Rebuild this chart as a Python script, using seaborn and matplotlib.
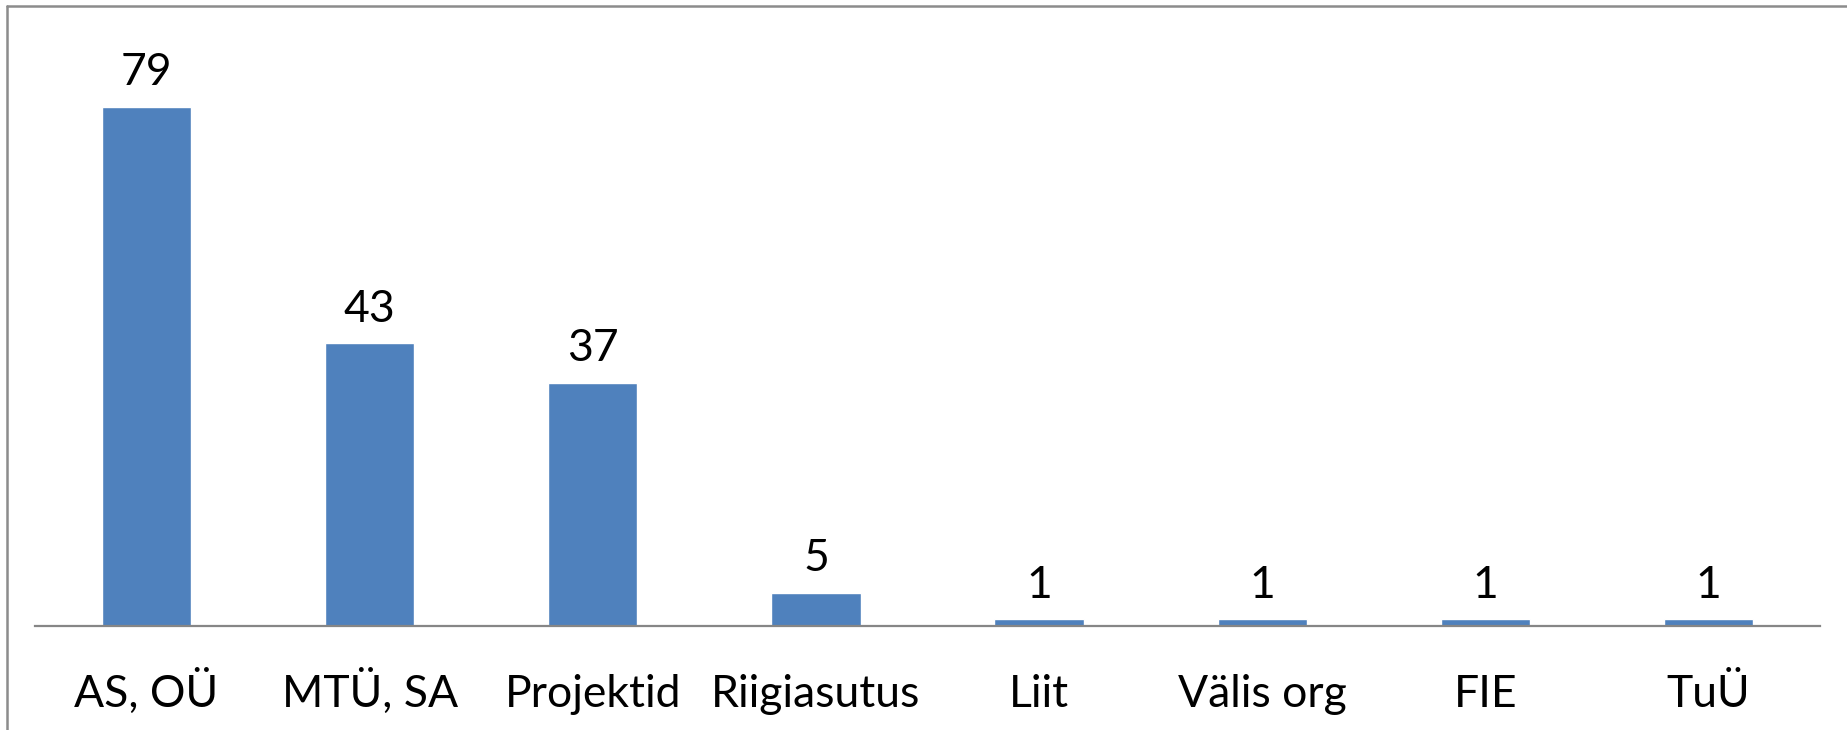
import matplotlib
matplotlib.use("Agg")
import matplotlib.pyplot as plt
import seaborn as sns
import pandas as pd
from matplotlib.lines import Line2D

categories = ["AS, OÜ", "MTÜ, SA", "Projektid", "Riigiasutus", "Liit", "Välis org", "FIE", "TuÜ"]
values = [79, 43, 37, 5, 1, 1, 1, 1]

sns.set_theme(style="white")
plt.rcParams['font.family'] = ['Lato', 'DejaVu Sans']

W, H = 1847, 730
fig = plt.figure(figsize=(W / 100, H / 100), dpi=100)
ax_left, ax_right = 35 / W, 1820 / W
ax_bottom = (H - 626) / H
ax_top = (H - 40) / H
ax = fig.add_axes([ax_left, ax_bottom, ax_right - ax_left, ax_top - ax_bottom])

df = pd.DataFrame({"cat": categories, "val": values})
sns.barplot(data=df, x="cat", y="val", color="#4F81BD", saturation=1, width=0.40, ax=ax)

ax.set_ylim(0, (626 - 40) / 6.57)
ax.set_xlim(-0.5, len(categories) - 0.5)
ax.set_xlabel("")
ax.set_ylabel("")
ax.set_yticks([])
for s in ["top", "right", "left"]:
    ax.spines[s].set_visible(False)
ax.spines["bottom"].set_color("#868686")
ax.spines["bottom"].set_linewidth(1.6)
ax.tick_params(axis="x", length=0, pad=58, labelsize=32, labelcolor="black")
ax.set_xticks(range(len(categories)))
ax.set_xticklabels(categories, va="baseline")

for c in ax.containers:
    ax.bar_label(c, labels=[str(v) for v in values], padding=10, fontsize=32, color="black")

# outer chart frame (left and top edges)
fig.add_artist(Line2D([7 / W, 7 / W], [0, 1 - 6 / H], transform=fig.transFigure, color="#8c8c8c", lw=1.8))
fig.add_artist(Line2D([7 / W, 1], [1 - 6 / H, 1 - 6 / H], transform=fig.transFigure, color="#8c8c8c", lw=1.8))

fig.savefig("out.png", dpi=100, facecolor="white")
